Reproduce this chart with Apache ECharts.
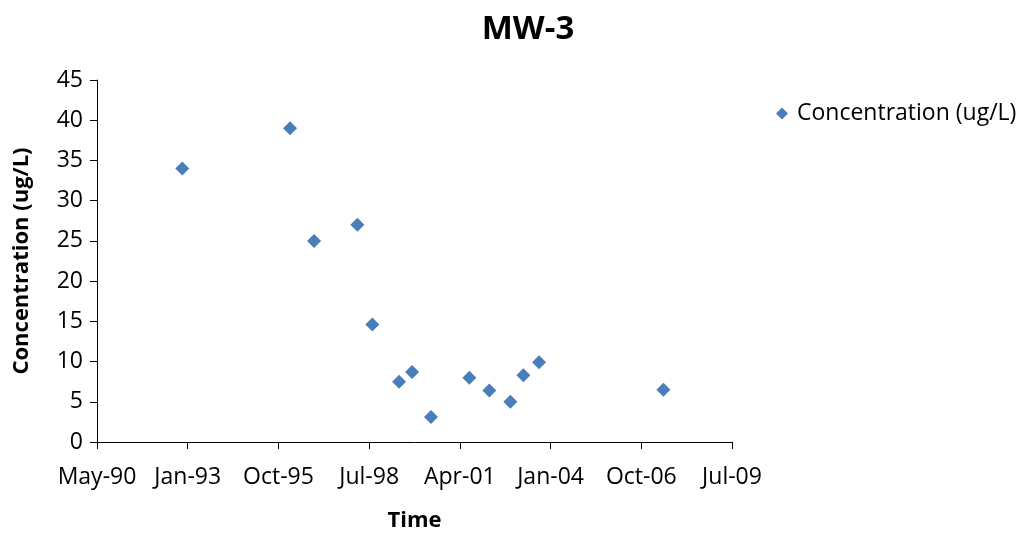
<!DOCTYPE html>
<html>
<head>
<meta charset="utf-8">
<script src="https://cdn.jsdelivr.net/npm/echarts@6/dist/echarts.min.js"></script>
<style>
html,body{margin:0;padding:0;background:#fff;}
#chart{width:1025px;height:534px;}
</style>
</head>
<body>
<div id="chart"></div>
<script>
// Sample dates and measured concentrations (ug/L)
var sampleDates = ['1992-12-02','1996-03-04','1996-11-24','1998-03-16','1998-08-28','1999-06-19','1999-11-09','2000-06-05','2001-08-02','2002-03-10','2002-10-28','2003-03-20','2003-09-09','2007-06-11'];
var concentrations = [34.0, 39.0, 25.0, 27.0, 14.6, 7.5, 8.7, 3.1, 8.0, 6.4, 5.0, 8.3, 9.9, 6.5];
// X axis: Excel date serials, ticks every 1000 days
var xMinSerial = 33000, xMaxSerial = 40000, xStep = 1000;
var yMin = 0, yMax = 45, yStep = 5;
var months = ['Jan','Feb','Mar','Apr','May','Jun','Jul','Aug','Sep','Oct','Nov','Dec'];

function toSerial(s){
  var p = s.split('-');
  var ms = Date.UTC(+p[0], +p[1]-1, +p[2]);
  return ms/86400000 + 25569;
}
function serialLabel(v){
  var d = new Date((v - 25569) * 86400000);
  var yy = String(d.getUTCFullYear() % 100).padStart(2,'0');
  return months[d.getUTCMonth()] + '-' + yy;
}
var points = sampleDates.map(function(d,i){ return [toSerial(d), concentrations[i]]; });

var FONT = 'Open Sans';
var chart = echarts.init(document.getElementById('chart'));
chart.setOption({
  animation: false,
  backgroundColor: '#ffffff',
  title: {
    text: 'MW-3', left: 523, top: 8, textAlign: 'center',
    textStyle: {fontFamily: FONT, fontSize: 33, fontWeight: 'bold', color: '#000'}
  },
  legend: {
    left: 776, top: 102, padding: 0, itemWidth: 12, itemHeight: 12, itemGap: 6,
    icon: 'diamond',
    itemStyle: {opacity: 1},
    textStyle: {fontFamily: FONT, fontSize: 23, color: '#000', padding: [0, 0, 0, 4]},
    data: ['Concentration (ug/L)']
  },
  grid: {left: 97, right: 293, top: 80, bottom: 92, containLabel: false, outerBoundsMode: 'none'},
  xAxis: {
    type: 'value', min: xMinSerial, max: xMaxSerial, interval: xStep,
    name: 'Time', nameLocation: 'middle', nameGap: 68,
    nameTextStyle: {fontFamily: FONT, fontSize: 22, fontWeight: 'bold', color: '#000'},
    axisLine: {show: true, onZero: false, lineStyle: {color: '#000', width: 1}},
    axisTick: {show: true, inside: false, length: 7, lineStyle: {color: '#000'}},
    splitLine: {show: false},
    axisLabel: {fontFamily: FONT, fontSize: 23, color: '#000', margin: 24, formatter: serialLabel, showMinLabel: true, showMaxLabel: true, hideOverlap: false}
  },
  yAxis: {
    type: 'value', min: yMin, max: yMax, interval: yStep,
    name: 'Concentration (ug/L)', nameLocation: 'middle', nameGap: 64, nameRotate: 90,
    nameTextStyle: {fontFamily: FONT, fontSize: 22, fontWeight: 'bold', color: '#000'},
    axisLine: {show: true, lineStyle: {color: '#000', width: 1}},
    axisTick: {show: true, inside: false, length: 7, lineStyle: {color: '#000'}},
    splitLine: {show: false},
    axisLabel: {fontFamily: FONT, fontSize: 23, color: '#000', margin: 14}
  },
  series: [{
    name: 'Concentration (ug/L)',
    type: 'scatter',
    symbol: 'diamond',
    symbolSize: 14,
    itemStyle: {color: '#4a7ebb', opacity: 1},
    data: points
  }]
});
</script>
</body>
</html>
